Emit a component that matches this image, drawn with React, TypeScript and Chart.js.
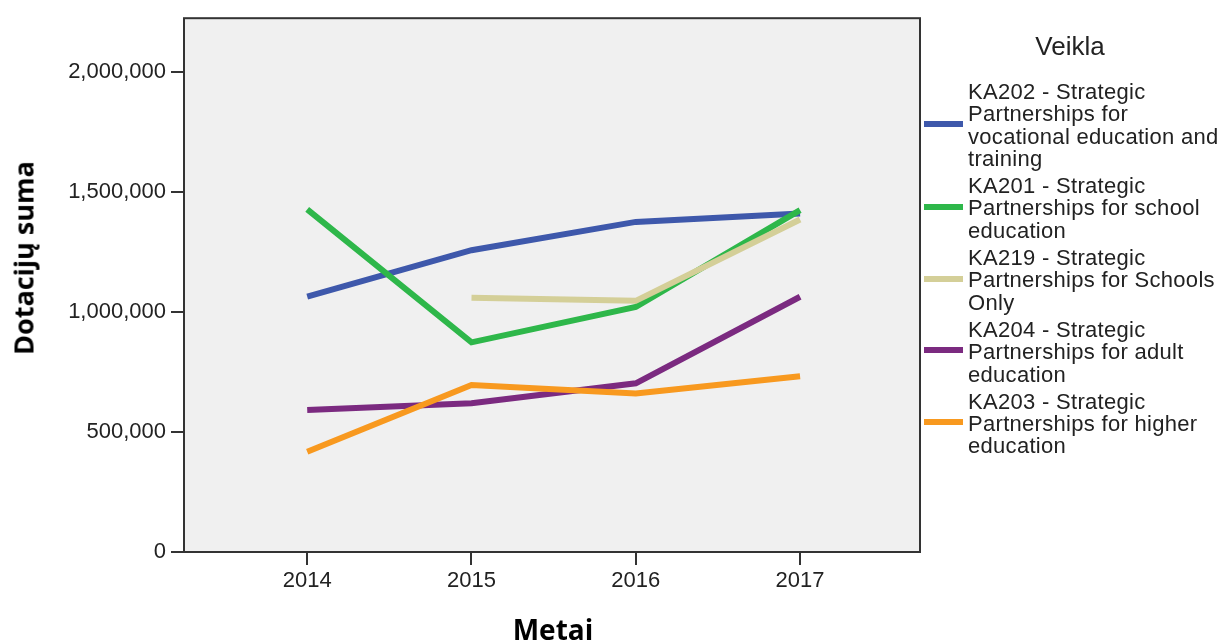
import React, { useEffect, useRef } from "react";
import { Chart, registerables } from "chart.js";

Chart.register(...registerables);

// ---- data ----
const years = [2014, 2015, 2016, 2017];
const ka202 = [1064000, 1258000, 1376000, 1411000];
const ka201 = [1428000, 874000, 1022000, 1425000];
const ka219: (number | null)[] = [null, 1060000, 1047000, 1386000];
const ka204 = [592000, 620000, 703000, 1064000];
const ka203 = [418000, 696000, 661000, 733000];

const yTicks = [0, 500000, 1000000, 1500000, 2000000];
const xTicks = [2014, 2015, 2016, 2017];

const seriesNames = [
  "KA202 - Strategic\nPartnerships for\nvocational education and\ntraining",
  "KA201 - Strategic\nPartnerships for school\neducation",
  "KA219 - Strategic\nPartnerships for Schools\nOnly",
  "KA204 - Strategic\nPartnerships for adult\neducation",
  "KA203 - Strategic\nPartnerships for higher\neducation",
];
const seriesValues = [ka202, ka201, ka219, ka204, ka203];
const seriesColors = ["#3e58ab", "#2eb74a", "#d4cf98", "#7b2a80", "#f8991f"];
const drawOrder = [5, 4, 3, 2, 1];

const yTitle = "Dotacijų suma";
const xTitle = "Metai";
const legendTitle = "Veikla";

const W = 1221;
const H = 642;

const plotFrame = {
  id: "plotFrame",
  beforeDraw(chart: any) {
    const { ctx, chartArea: a } = chart;
    ctx.save();
    ctx.fillStyle = "#f0f0f0";
    ctx.fillRect(a.left, a.top, a.right - a.left, a.bottom - a.top);
    ctx.restore();
  },
  afterDraw(chart: any) {
    const { ctx, chartArea: a } = chart;
    ctx.save();
    ctx.strokeStyle = "#333333";
    ctx.lineWidth = 2;
    ctx.strokeRect(a.left, a.top, a.right - a.left, a.bottom - a.top);
    ctx.restore();
  },
};

export default function App() {
  const ref = useRef<HTMLCanvasElement | null>(null);

  useEffect(() => {
    if (!ref.current) return;
    const chart = new Chart(ref.current, {
      type: "line",
      data: {
        datasets: seriesValues.map((vals, i) => ({
          label: seriesNames[i],
          data: years.map((yr, j) => ({ x: yr, y: vals[j] })),
          borderColor: seriesColors[i],
          backgroundColor: seriesColors[i],
          borderWidth: 6,
          pointRadius: 0,
          pointHoverRadius: 0,
          tension: 0,
          fill: false,
          spanGaps: false,
          order: drawOrder[i],
        })),
      },
      options: {
        animation: false,
        responsive: false,
        devicePixelRatio: 1,
        layout: { padding: { top: 18, right: W - 920, left: 0, bottom: 0 } },
        plugins: {
          legend: { display: false },
          tooltip: { enabled: false },
          title: { display: false },
        },
        scales: {
          x: {
            type: "linear",
            min: 2013.25,
            max: 2017.73,
            afterFit: (s: any) => {
              s.height = H - 552;
            },
            afterBuildTicks: (s: any) => {
              s.ticks = xTicks.map((v) => ({ value: v }));
            },
            ticks: {
              padding: 3,
              color: "#222",
              font: { family: "'Liberation Sans', Arial, sans-serif", size: 22 },
              callback: (v: any) => String(v),
              maxRotation: 0,
            },
            grid: {
              drawOnChartArea: false,
              drawTicks: true,
              tickLength: 13,
              color: "#333",
              lineWidth: 2,
            },
            border: { display: false },
          },
          y: {
            type: "linear",
            min: 0,
            max: 2225000,
            afterFit: (s: any) => {
              s.width = 184;
            },
            afterBuildTicks: (s: any) => {
              s.ticks = yTicks.map((v) => ({ value: v }));
            },
            ticks: {
              padding: 5,
              color: "#222",
              font: { family: "'Liberation Sans', Arial, sans-serif", size: 22 },
              callback: (v: any) => Number(v).toLocaleString("en-US"),
            },
            grid: {
              drawOnChartArea: false,
              drawTicks: true,
              tickLength: 13,
              color: "#333",
              lineWidth: 2,
            },
            border: { display: false },
          },
        },
      },
      plugins: [plotFrame],
    });
    return () => chart.destroy();
  }, []);

  const titleFont = "'Open Sans', 'Noto Sans', sans-serif";
  const legFont = "'Liberation Sans', Arial, sans-serif";

  return (
    <div
      style={{
        position: "fixed",
        left: 0,
        top: 0,
        width: W,
        height: H,
        background: "#ffffff",
        overflow: "hidden",
      }}
    >
      <canvas ref={ref} width={W} height={H} style={{ width: W, height: H, display: "block" }} />
      <div
        style={{
          position: "absolute",
          left: 23,
          top: 258,
          transform: "translate(-50%, -50%) rotate(-90deg)",
          fontFamily: titleFont,
          fontWeight: 700,
          fontSize: 27,
          lineHeight: 1,
          whiteSpace: "nowrap",
          color: "#000",
        }}
      >
        {yTitle}
      </div>
      <div
        style={{
          position: "absolute",
          left: 553,
          top: 629,
          transform: "translate(-50%, -50%)",
          fontFamily: titleFont,
          fontWeight: 700,
          fontSize: 28,
          lineHeight: 1,
          whiteSpace: "nowrap",
          color: "#000",
        }}
      >
        {xTitle}
      </div>
      <div
        style={{
          position: "absolute",
          left: 1070,
          top: 46,
          transform: "translate(-50%, -50%)",
          fontFamily: legFont,
          fontSize: 26,
          lineHeight: 1,
          whiteSpace: "nowrap",
          color: "#222",
        }}
      >
        {legendTitle}
      </div>
      <div
        style={{
          position: "absolute",
          left: 924,
          top: 81,
          display: "flex",
          flexDirection: "column",
          gap: 5,
        }}
      >
        {seriesNames.map((name, i) => (
          <div key={i} style={{ display: "flex", alignItems: "center" }}>
            <div
              style={{
                width: 39,
                height: 6,
                background: seriesColors[i],
                marginRight: 5,
                transform: "translateY(-2px)",
                flex: "none",
              }}
            />
            <div
              style={{
                fontFamily: legFont,
                fontSize: 22,
                lineHeight: "22.3px",
                letterSpacing: "0.3px",
                whiteSpace: "pre",
                color: "#222",
              }}
            >
              {name}
            </div>
          </div>
        ))}
      </div>
    </div>
  );
}
